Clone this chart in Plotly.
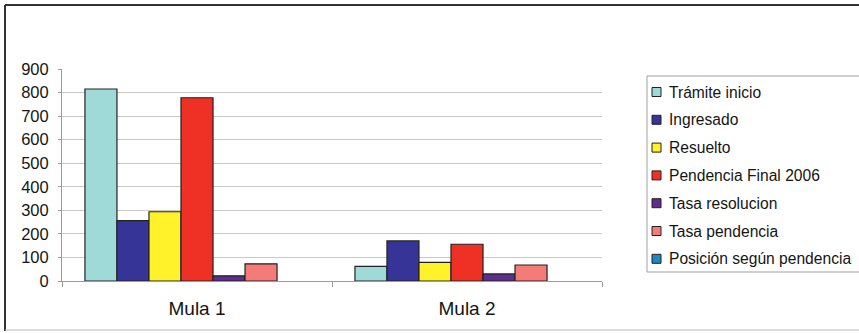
import plotly.graph_objects as go

# Categories and series
categories = ["Mula 1", "Mula 2"]
series_names = [
    "Trámite inicio",
    "Ingresado",
    "Resuelto",
    "Pendencia Final 2006",
    "Tasa resolucion",
    "Tasa pendencia",
    "Posición según pendencia",
]
tramite_inicio = [815, 62]
ingresado = [256, 170]
resuelto = [294, 79]
pendencia_final = [778, 156]
tasa_resolucion = [22, 30]
tasa_pendencia = [73, 68]
posicion_pendencia = [0, 0]

series_values = [
    tramite_inicio,
    ingresado,
    resuelto,
    pendencia_final,
    tasa_resolucion,
    tasa_pendencia,
    posicion_pendencia,
]
colors = ["#9fd9d8", "#363497", "#fff22a", "#ee3124", "#5e2d8f", "#f47b78", "#1f87c6"]

FONT = "Liberation Sans, Arial, sans-serif"
TEXT = "#151515"

fig = go.Figure()
for name, vals, col in zip(series_names, series_values, colors):
    has_height = any(v > 0 for v in vals)
    fig.add_trace(go.Bar(
        x=categories, y=vals, name=name,
        marker=dict(color=col, line=dict(color="#222222", width=1.2 if has_height else 0)),
        showlegend=False,
    ))

# plot area in pixels: x 62..602, y 69..281
L, R, T, B = 62, 602, 69, 281
W, H = 859, 333
pw, ph = R - L, B - T


def px(x):
    return (x - L) / pw


def py(y):
    return (B - y) / ph


shapes = [
    # outer frame
    dict(type="line", xref="paper", yref="paper", x0=px(5), x1=px(860), y0=py(5), y1=py(5),
         line=dict(color="#333333", width=2)),
    dict(type="line", xref="paper", yref="paper", x0=px(5), x1=px(5), y0=py(5), y1=py(331),
         line=dict(color="#333333", width=2)),
    dict(type="line", xref="paper", yref="paper", x0=px(5), x1=px(860), y0=py(330), y1=py(330),
         line=dict(color="#bbbbbb", width=1)),
    # legend box
    dict(type="rect", xref="paper", yref="paper", x0=px(647), x1=px(866), y0=py(76), y1=py(272),
         line=dict(color="#a0a0a0", width=1), fillcolor="white"),
]

annotations = []
legend_top, legend_step = 92, 27.8
for i, (name, col) in enumerate(zip(series_names, colors)):
    yc = legend_top + i * legend_step
    shapes.append(dict(
        type="rect", xref="paper", yref="paper",
        x0=px(652), x1=px(661), y0=py(yc - 4.5), y1=py(yc + 4.5),
        line=dict(color="#222222", width=1), fillcolor=col,
    ))
    annotations.append(dict(
        text=name, xref="paper", yref="paper", x=px(667), y=py(yc),
        xanchor="left", yanchor="middle", showarrow=False,
        font=dict(size=15.6, family=FONT, color=TEXT),
    ))

fig.update_layout(
    width=W, height=H,
    margin=dict(l=L, r=W - R, t=T, b=H - B, autoexpand=False),
    paper_bgcolor="white", plot_bgcolor="white",
    barmode="group", bargap=0.17, bargroupgap=0,
    font=dict(family=FONT, color=TEXT),
    shapes=shapes,
    annotations=annotations,
    showlegend=False,
    xaxis=dict(
        showline=True, linecolor="#9a9a9a", linewidth=1,
        ticks="outside", tickson="boundaries", ticklen=5, tickcolor="#9a9a9a",
        tickfont=dict(size=19, family=FONT, color=TEXT),
        ticklabelstandoff=10,
        showgrid=False,
    ),
    yaxis=dict(
        range=[0, 900], dtick=100, tick0=0,
        showline=True, linecolor="#9a9a9a", linewidth=1,
        ticks="outside", ticklen=3, tickcolor="#9a9a9a",
        gridcolor="#c8c8c8", gridwidth=1,
        zeroline=False,
        tickfont=dict(size=16.5, family=FONT, color=TEXT),
        ticklabelstandoff=6,
    ),
)

fig.write_html("out.html")
